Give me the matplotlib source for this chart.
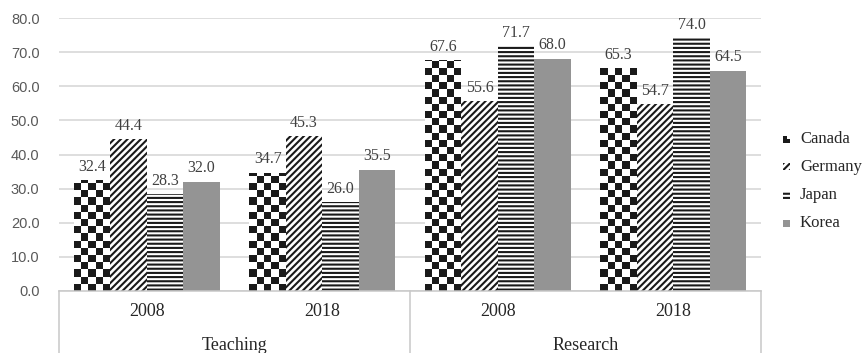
import numpy as np
import matplotlib
matplotlib.use("Agg")
import matplotlib.pyplot as plt
from matplotlib.collections import PatchCollection
from matplotlib.patches import Rectangle
from matplotlib.transforms import blended_transform_factory

plt.rcParams['font.family'] = ['Liberation Serif', 'DejaVu Serif']
plt.rcParams['hatch.linewidth'] = 1.5

# Share of time (%) by activity and survey year
groups = ['Teaching', 'Research']
years = ['2008', '2018']
countries = ['Canada', 'Germany', 'Japan', 'Korea']
canada = [32.4, 34.7, 67.6, 65.3]
germany = [44.4, 45.3, 55.6, 54.7]
japan = [28.3, 26.0, 71.7, 74.0]
korea = [32.0, 35.5, 68.0, 64.5]
series = [canada, germany, japan, korea]

W, H = 864, 353
fig = plt.figure(figsize=(W / 100, H / 100), dpi=100)
ax_l, ax_r, ax_b, ax_t = 59, 761, 291, 18
ax = fig.add_axes([ax_l / W, (H - ax_b) / H, (ax_r - ax_l) / W, (ax_b - ax_t) / H])

ncat = len(groups) * len(years)
x = np.arange(ncat)
bw = 0.2075
offsets = (np.arange(4) - 1.5) * bw
black = '#1a1a1a'

styles = [
    dict(facecolor='white', edgecolor='none'),
    dict(facecolor='white', edgecolor=black, hatch='/////', linewidth=0),
    dict(facecolor='white', edgecolor=black, hatch='----', linewidth=0),
    dict(facecolor='#949494', edgecolor='none'),
]

ax.set_xlim(-0.5, ncat - 0.5)
ax.set_ylim(0, 80)

containers = []
for vals, off, st in zip(series, offsets, styles):
    bars = ax.bar(x + off, vals, bw, zorder=2, **st)
    containers.append(bars)
    for rect, v in zip(bars, vals):
        ax.annotate(f'{v:.1f}', (rect.get_x() + rect.get_width() / 2, v),
                    xytext=(0, 4), textcoords='offset points',
                    ha='center', va='bottom', fontsize=11.5, color='#404040')

# checkerboard fill for Canada, squares about 7 px
px_per_unit = (ax_b - ax_t) / 80
sq = 7.2 / px_per_unit
for rect in containers[0]:
    x0, w, h = rect.get_x(), rect.get_width(), rect.get_height()
    ncol = 5
    nrow = int(np.ceil(h / sq))
    cw = w / ncol
    squares = [Rectangle((x0 + j * cw, i * sq), cw, sq)
               for i in range(nrow) for j in range(ncol) if (i + j) % 2 == 0]
    pc = PatchCollection(squares, facecolor=black, edgecolor='none',
                         antialiased=False, zorder=2.5)
    ax.add_collection(pc)
    pc.set_clip_path(rect)

ax.set_xlim(-0.5, ncat - 0.5)
ax.set_ylim(0, 80)
ax.set_yticks(np.arange(0, 81, 10))
ax.set_yticklabels([f'{t:.1f}' for t in np.arange(0, 81, 10)],
                   family='Liberation Sans', fontsize=10.5, color='#595959')
ax.tick_params(axis='y', length=0, pad=14)
ax.tick_params(axis='x', length=0, labelbottom=False)
ax.grid(axis='y', color='#d4d4d4', linewidth=1.1, zorder=0)
for s in ['top', 'right', 'left']:
    ax.spines[s].set_visible(False)
ax.spines['bottom'].set_color('#c8c8c8')
ax.spines['bottom'].set_linewidth(1.1)

# two-level category axis below the plot
tr = blended_transform_factory(ax.transData, ax.transAxes)
axes_h = ax_b - ax_t
bottom_frac = -(H - ax_b) / axes_h
for xs in [-0.5, 1.5, 3.5]:
    ax.plot([xs, xs], [0, bottom_frac], transform=tr, color='#c8c8c8',
            linewidth=1.1, clip_on=False)
for i in range(ncat):
    ax.text(x[i], -21 / axes_h, years[i % 2], transform=tr, ha='center',
            va='center', fontsize=13, color='#262626')
for g, name in enumerate(groups):
    ax.text(2 * g + 0.5, -54 / axes_h, name, transform=tr, ha='center',
            va='center', fontsize=13, color='#262626')

# legend on the right
ms = 7
leg_x = 783
leg_y = [139, 167, 195, 223]

def fig_rect(px, py, w, h, **kw):
    r = Rectangle((px / W, 1 - (py + h) / H), w / W, h / H,
                  transform=fig.transFigure, **kw)
    fig.patches.append(r)

for name, py, st in zip(countries, leg_y, styles):
    top = py - ms / 2
    if name == 'Canada':
        half = ms / 2
        fig_rect(leg_x, top, half, ms, facecolor=black, edgecolor='none')
        fig_rect(leg_x + half, top + half, half, half, facecolor=black, edgecolor='none')
    else:
        fig_rect(leg_x, top, ms, ms, **st)
    fig.text(800 / W, 1 - py / H, name, ha='left', va='center',
             fontsize=12, color='#262626')

fig.savefig('out.png', dpi=100)
